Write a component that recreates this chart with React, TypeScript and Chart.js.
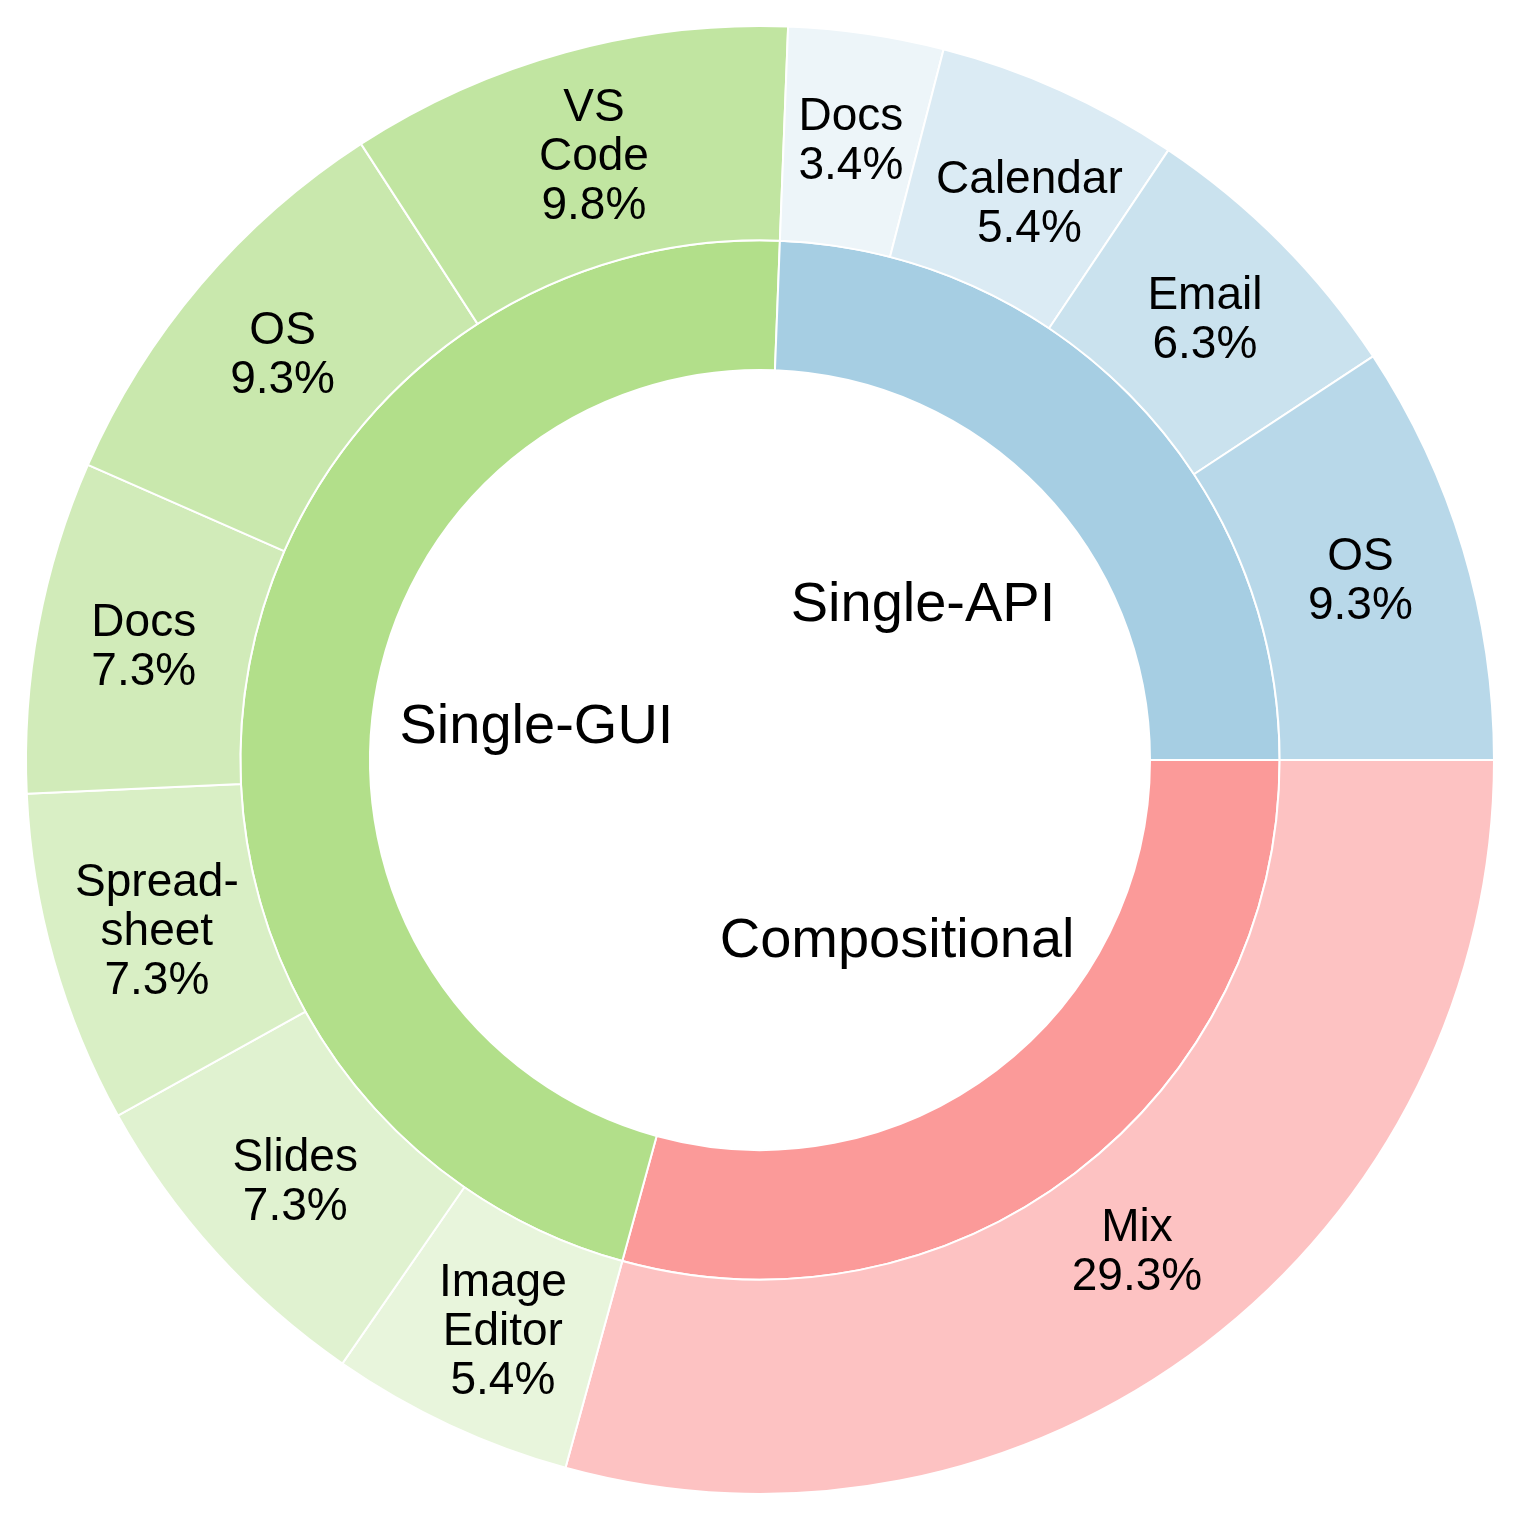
import React, { useEffect, useRef } from "react";
import { Chart, registerables } from "chart.js";

Chart.register(...registerables);

// Inner ring (categories), clockwise from 3 o'clock
const groupLabels = ["Compositional", "Single-GUI", "Single-API"];
const groupValues = [60, 95, 50];
const groupColors = ["#fb9a99", "#b2df8a", "#a6cee3"];

// Outer ring (sub-categories), clockwise from 3 o'clock
const subLabels = [
  "Mix",
  "Image\nEditor",
  "Slides",
  "Spread-\nsheet",
  "Docs",
  "OS",
  "VS\nCode",
  "Docs",
  "Calendar",
  "Email",
  "OS",
];
const subValues = [60, 11, 15, 15, 15, 19, 20, 7, 11, 13, 19];
const subColors = [
  "#fdc2c2",
  "#e8f5dc",
  "#e0f2d0",
  "#d9efc5",
  "#d1ebb9",
  "#c9e8ad",
  "#c1e5a1",
  "#edf5f9",
  "#dbebf4",
  "#cae2ee",
  "#b8d8e9",
];

const FONT = "'Liberation Sans', Arial, Helvetica, sans-serif";

// small per-label placement tweaks (style only)
const nudges: Record<number, [number, number]> = { 0: [-3, -8], 1: [8, 2], 8: [13, 15] };

const labelPlugin = {
  id: "sunLabels",
  afterDatasetsDraw(chart: any) {
    const ctx = chart.ctx;
    const total = subValues.reduce((a, b) => a + b, 0);
    ctx.save();
    ctx.fillStyle = "#000";
    ctx.textAlign = "center";
    ctx.textBaseline = "middle";
    const outerMeta = chart.getDatasetMeta(0);
    outerMeta.data.forEach((arc: any, i: number) => {
      const p = arc.getProps(["x", "y", "startAngle", "endAngle", "innerRadius", "outerRadius"], true);
      const mid = (p.startAngle + p.endAngle) / 2;
      const r = (p.innerRadius + p.outerRadius) / 2;
      const [nx, ny] = nudges[i] || [0, 0];
      const cx = p.x + Math.cos(mid) * r + nx;
      const cy = p.y + Math.sin(mid) * r + ny;
      const lines = subLabels[i].split("\n");
      lines.push(((subValues[i] / total) * 100).toFixed(1) + "%");
      ctx.font = `46px ${FONT}`;
      const lh = 49;
      const start = cy - ((lines.length - 1) * lh) / 2;
      lines.forEach((ln, k) => ctx.fillText(ln, cx, start + k * lh + 2));
    });
    const innerMeta = chart.getDatasetMeta(1);
    innerMeta.data.forEach((arc: any, i: number) => {
      const p = arc.getProps(["x", "y", "startAngle", "endAngle", "innerRadius", "outerRadius"], true);
      const mid = (p.startAngle + p.endAngle) / 2;
      const r = p.innerRadius * 0.58;
      const cx = p.x + Math.cos(mid) * r;
      const cy = p.y + Math.sin(mid) * r;
      ctx.font = `56px ${FONT}`;
      ctx.fillText(groupLabels[i], cx, cy + 2);
    });
    ctx.restore();
  },
};

export default function App() {
  const ref = useRef<HTMLCanvasElement | null>(null);
  useEffect(() => {
    document.body.style.margin = "0";
    const canvas = ref.current!;
    const chart = new Chart(canvas, {
      type: "doughnut",
      data: {
        labels: subLabels,
        datasets: [
          {
            data: subValues,
            backgroundColor: subColors,
            borderColor: "#ffffff",
            borderWidth: 2,
            weight: 215,
          } as any,
          {
            data: groupValues,
            backgroundColor: groupColors,
            borderColor: "#ffffff",
            borderWidth: 2,
            weight: 130,
          } as any,
        ],
      },
      options: {
        responsive: false,
        animation: false,
        rotation: 90,
        cutout: 390,
        layout: { padding: { left: 25, top: 25, right: 27, bottom: 27 } },
        plugins: {
          legend: { display: false },
          tooltip: { enabled: false },
          title: { display: false },
        },
      } as any,
      plugins: [labelPlugin],
    });
    return () => chart.destroy();
  }, []);
  return (
    <div style={{ width: 1522, height: 1522, background: "#fff" }}>
      <canvas ref={ref} width={1522} height={1522} style={{ display: "block" }} />
    </div>
  );
}
